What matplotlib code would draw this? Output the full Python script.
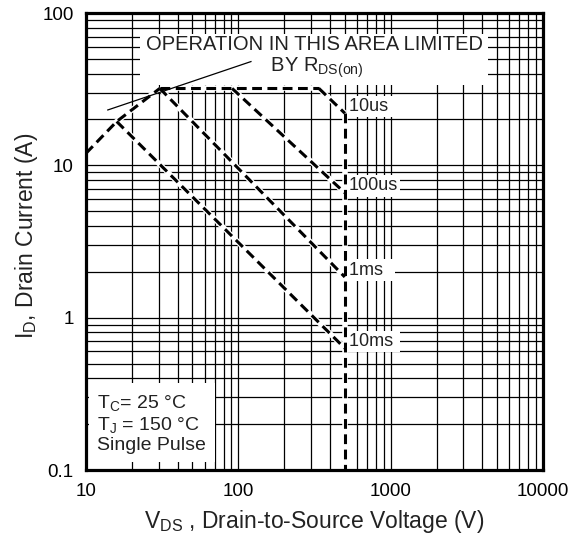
import matplotlib
matplotlib.use("Agg")
import matplotlib.pyplot as plt
from matplotlib.ticker import LogLocator, NullFormatter, FixedLocator, FixedFormatter

plt.rcParams["font.family"] = ["Liberation Sans", "DejaVu Sans"]
plt.rcParams["mathtext.default"] = "regular"

# safe operating area
bv_dss = 500          # V, vertical limit
i_max = 32            # A, horizontal limit
rds_v = [10, 15.9, 30.5]
rds_i = [12.0, 19.4, 32.0]
pulse_names = ["10us", "100us", "1ms", "10ms"]
pulse_v_start = [338, 91, 30.5, 15.9]
pulse_i_start = [32, 32, 32, 19.4]
pulse_i_end = [22, 6.6, 1.85, 0.63]
pointer_v = [13.9, 121]
pointer_i = [23.1, 48]

x_ticks = [10, 100, 1000, 10000]
x_labels = ["10", "100", "1000", "10000"]
y_ticks = [0.1, 1, 10, 100]
y_labels = ["0.1", "1", "10", "100"]

fig = plt.figure(figsize=(5.8, 5.36), dpi=100)
ax = fig.add_axes([0.1483, 0.1231, 0.7879, 0.8526])
ax.set_xscale("log")
ax.set_yscale("log")
ax.set_xlim(10, 10000)
ax.set_ylim(0.1, 100)

ax.xaxis.set_major_locator(FixedLocator(x_ticks))
ax.xaxis.set_major_formatter(FixedFormatter(x_labels))
ax.yaxis.set_major_locator(FixedLocator(y_ticks))
ax.yaxis.set_major_formatter(FixedFormatter(y_labels))
ax.xaxis.set_minor_locator(LogLocator(base=10, subs=range(2, 10)))
ax.yaxis.set_minor_locator(LogLocator(base=10, subs=range(2, 10)))
ax.xaxis.set_minor_formatter(NullFormatter())
ax.yaxis.set_minor_formatter(NullFormatter())
ax.tick_params(which="both", length=0, labelsize=13.5, pad=9)
ax.grid(which="both", color="black", linewidth=0.9)
ax.set_axisbelow(True)
for s in ax.spines.values():
    s.set_linewidth(2.3)


def sketch(xs, ys):
    # white under-stroke gives the white gaps between the dashes
    ax.plot(xs, ys, color="white", linewidth=4.0, solid_capstyle="butt", zorder=2)
    ax.plot(xs, ys, color="black", linewidth=2.2, dashes=[3.2, 1.8], zorder=2.1)


sketch(rds_v, rds_i)
sketch([rds_v[-1], pulse_v_start[0]], [i_max, i_max])
for k in range(len(pulse_names)):
    sketch([pulse_v_start[k], bv_dss], [pulse_i_start[k], pulse_i_end[k]])
sketch([bv_dss, bv_dss], [pulse_i_end[0], 0.1])

for k in range(len(pulse_names)):
    ax.annotate(pulse_names[k].ljust(5), xy=(bv_dss, pulse_i_end[k]),
                xytext=(3, 5), textcoords="offset points", ha="left", va="center",
                fontsize=13, color="#222222", zorder=4,
                bbox=dict(facecolor="white", edgecolor="none", pad=1.5))

ax.text(314, 51, "OPERATION IN THIS AREA LIMITED\n BY R$_{DS(on)}$",
        ha="center", va="center", multialignment="center", fontsize=14.5,
        color="#222222", linespacing=1.05, zorder=4,
        bbox=dict(facecolor="white", edgecolor="none", pad=4))
# pointer drawn over the text box, as in the datasheet
ax.plot(pointer_v, pointer_i, color="black", linewidth=0.9, zorder=5)

ax.text(0.025, 0.035, "T$_C$= 25 °C\nT$_J$ = 150 °C\nSingle Pulse",
        transform=ax.transAxes, ha="left", va="bottom", fontsize=14,
        color="#222222", linespacing=1.15, zorder=4,
        bbox=dict(facecolor="white", edgecolor="none", pad=6))

ax.set_xlabel("V$_{DS}$ , Drain-to-Source Voltage (V)", fontsize=16.5, color="#222222")
ax.set_ylabel("I$_D$, Drain Current (A)", fontsize=16.5, color="#222222")
ax.xaxis.set_label_coords(0.5, -0.083)
ax.yaxis.set_label_coords(-0.1007, 0.512)

fig.savefig("out.png", dpi=100)
